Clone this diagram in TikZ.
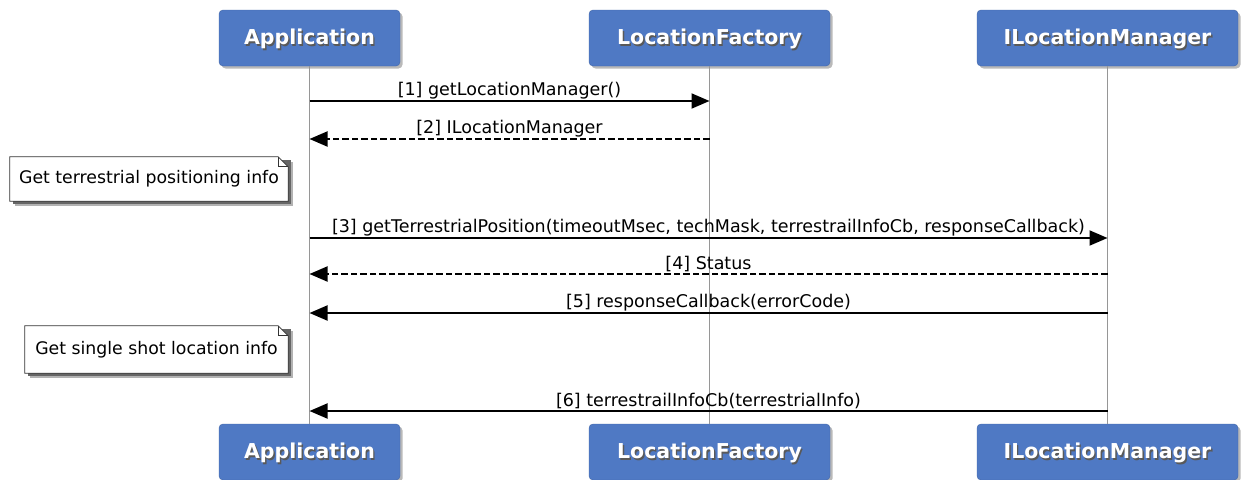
\documentclass[tikz,border=0pt]{standalone}
\usepackage{fontspec}
\setmainfont{DejaVu Sans}
\usetikzlibrary{arrows.meta,shadows,backgrounds}
\definecolor{hdrblue}{RGB}{79,121,196}
\definecolor{lifegray}{RGB}{150,150,150}
\newcommand\hdrtext[1]{\leavevmode\rlap{\kern1.4pt\raisebox{-1.4pt}{\color{black!65}#1}}{\color{white}#1}}

\begin{document}
\begin{tikzpicture}[x=1pt,y=-1pt,>={Triangle[length=18pt,width=15pt]},
  actor/.style={draw=hdrblue!85!black,fill=hdrblue,rounded corners=4pt,minimum height=56pt,
    font=\fontsize{20.5}{22}\selectfont\bfseries,drop shadow={shadow xshift=2.5pt,shadow yshift=-2.5pt,opacity=0.55}},
  life/.style={lifegray,line width=1.8pt},
  msg/.style={->,line width=1.9pt},
  reply/.style={msg,dash pattern=on 6.5pt off 3pt},
  lbl/.style={font=\fontsize{17.5}{19}\selectfont,inner sep=1pt},
  notebox/.style={font=\fontsize{17.3}{19}\selectfont,inner sep=0pt}]
\useasboundingbox (0,0) rectangle (1241,479);
% participants
\node[actor,minimum width=181pt,text depth=2pt](app) at (309.5,38){\hdrtext{Application}};
\node[actor,minimum width=241pt,text depth=2pt](fac) at (709.5,38){\hdrtext{LocationFactory}};
\node[actor,minimum width=261pt,text depth=2pt](mgr) at (1107.5,38){\hdrtext{ILocationManager}};
\node[actor,minimum width=181pt,text depth=2pt](appb) at (309.5,452){\hdrtext{Application}};
\node[actor,minimum width=241pt,text depth=2pt](facb) at (709.5,452){\hdrtext{LocationFactory}};
\node[actor,minimum width=261pt,text depth=2pt](mgrb) at (1107.5,452){\hdrtext{ILocationManager}};
\draw[life](app)--(appb);
\draw[life](fac)--(facb);
\draw[life](mgr)--(mgrb);
% messages
\draw[msg](app.south|-0,101)--node[lbl,above]{[1] getLocationManager()}(fac.south|-0,101);
\draw[reply](fac.south|-0,139)--node[lbl,above]{[2] ILocationManager}(app.south|-0,139);
\draw[msg](app.south|-0,238)--node[lbl,above]{[3] getTerrestrialPosition(timeoutMsec, techMask, terrestrailInfoCb, responseCallback)}(mgr.south|-0,238);
\draw[reply](mgr.south|-0,274)--node[lbl,above]{[4] Status}(app.south|-0,274);
\draw[msg](mgr.south|-0,313)--node[lbl,above]{[5] responseCallback(errorCode)}(app.south|-0,313);
\draw[msg](mgr.south|-0,411)--node[lbl,above]{[6] terrestrailInfoCb(terrestrialInfo)}(app.south|-0,411);
% notes
\node[notebox,minimum width=278pt,minimum height=44pt](n1) at (149,179){Get terrestrial positioning info};
\node[notebox,minimum width=263pt,minimum height=47pt](n2) at (156.5,349.5){Get single shot location info};
\begin{scope}[on background layer]
\foreach \n in {n1,n2}{
\fill[black!30]([shift={(5,5)}]\n.north west)--([shift={(5,5)}]\n.north east)--([shift={(5,5)}]\n.south east)--([shift={(5,5)}]\n.south west)--cycle;
\fill[black!60]([shift={(3,3)}]\n.north west)--([shift={(3,3)}]\n.north east)--([shift={(3,3)}]\n.south east)--([shift={(3,3)}]\n.south west)--cycle;
\filldraw[fill=white,draw=black!80,line width=0.8pt](\n.north west)--([xshift=-10pt]\n.north east)--([yshift=-10pt]\n.north east)--(\n.south east)--(\n.south west)--cycle;
\draw[black!80,line width=0.8pt]([xshift=-10pt]\n.north east)|-([yshift=-10pt]\n.north east);
}
\end{scope}
\end{tikzpicture}
\end{document}
